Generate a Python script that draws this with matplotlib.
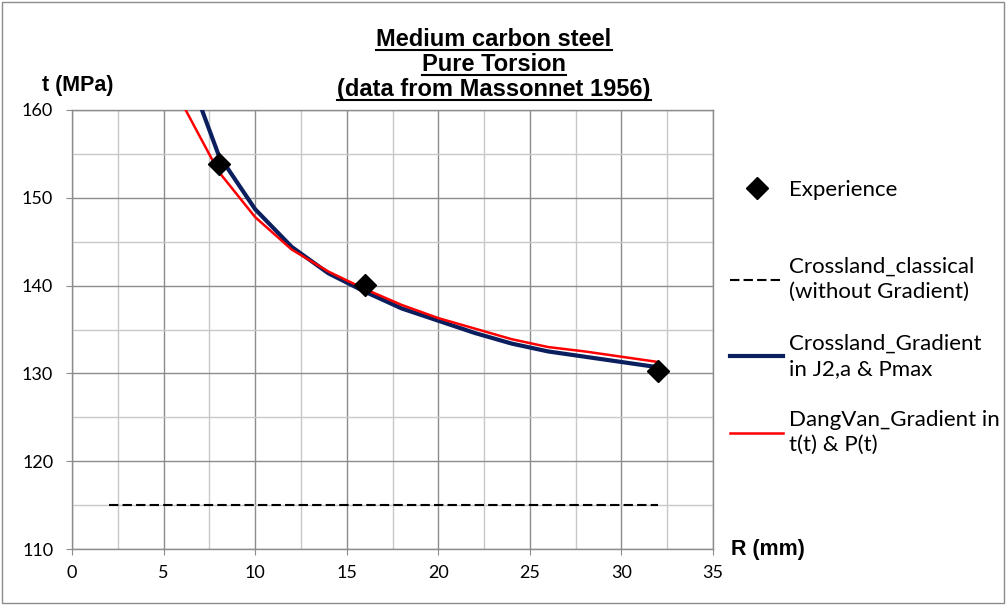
import matplotlib.pyplot as plt
from matplotlib.lines import Line2D
from matplotlib.patches import Rectangle
from matplotlib.ticker import MultipleLocator

# Données
r_exp = [8, 16, 32]
t_exp = [153.8, 140.1, 130.3]

r_classic = [2, 32]
t_classic = [115, 115]

r_grad = [6, 8, 10, 12, 14, 16, 18, 20, 22, 24, 26, 28, 30, 32]
t_crossland = [166.2, 154.9, 148.7, 144.4, 141.4, 139.3, 137.4, 136.0,
               134.6, 133.4, 132.5, 131.9, 131.3, 130.7]
t_dangvan = [160.8, 153.0, 147.8, 144.1, 141.6, 139.6, 137.8, 136.3,
             135.1, 133.9, 133.0, 132.5, 131.9, 131.3]

title_lines = ["Medium carbon steel", "Pure Torsion", "(data from Massonnet 1956)"]

W, H = 1006, 605
fig = plt.figure(figsize=(W / 100, H / 100), dpi=100)
ax = fig.add_axes([72 / W, 1 - 549 / H, (713 - 72) / W, (549 - 110) / H])

grid_major = '#8c8c8c'
grid_minor = '#c8c8c8'
navy = '#0b1f5e'

ax.plot(r_classic, t_classic, color='black', lw=1.5, dashes=(4.5, 2),
        label="Crossland_classical\n(without Gradient)", zorder=3)
ax.plot(r_grad, t_crossland, color=navy, lw=3, label="Crossland_Gradient\nin J2,a & Pmax", zorder=4)
ax.plot(r_grad, t_dangvan, color='red', lw=1.8, label="DangVan_Gradient in\nt(t) & P(t)", zorder=5)
ax.plot(r_exp, t_exp, linestyle='none', marker='D', markersize=11, color='black',
        label="Experience", zorder=6)

ax.set_xlim(0, 35)
ax.set_ylim(110, 160)
ax.xaxis.set_major_locator(MultipleLocator(5))
ax.xaxis.set_minor_locator(MultipleLocator(2.5))
ax.yaxis.set_major_locator(MultipleLocator(10))
ax.yaxis.set_minor_locator(MultipleLocator(5))
ax.grid(which='major', color=grid_major, lw=1)
ax.grid(which='minor', color=grid_minor, lw=1)
ax.set_axisbelow(True)
for s in ax.spines.values():
    s.set_color(grid_major)
    s.set_linewidth(1)
ax.tick_params(which='major', length=4.5, color=grid_major, labelsize=13)
ax.tick_params(axis='y', pad=9)
ax.tick_params(axis='x', pad=7)
ax.tick_params(which='minor', length=0)
for lab in ax.get_xticklabels() + ax.get_yticklabels():
    lab.set_fontfamily('Lato')

# Titres des axes
fig.text(78 / W, 1 - 85 / H, "t (MPa)", ha='center', va='center',
         fontsize=15.5, fontweight='bold', family='Liberation Sans')
fig.text(768 / W, 1 - 550 / H, "R (mm)", ha='center', va='center',
         fontsize=15.5, fontweight='bold', family='Liberation Sans')

# Légendes
leg_font = {'family': 'Lato', 'size': 16}
handles, labels = ax.get_legend_handles_labels()
leg1 = fig.legend([handles[3]], [labels[3]], loc='center left',
                  bbox_to_anchor=(730 / W, 1 - 189.5 / H), frameon=False,
                  prop=leg_font, handlelength=2.4,
                  handletextpad=0.27, borderpad=0, borderaxespad=0)
leg2 = fig.legend(handles[:3], labels[:3], loc='upper left',
                  bbox_to_anchor=(730 / W, 1 - 257 / H), frameon=False,
                  prop=leg_font, handlelength=2.4,
                  handletextpad=0.27, borderpad=0, borderaxespad=0, labelspacing=1.4)
for t in leg2.get_texts():
    t.set_linespacing(1.33)

# Titre souligné
baselines = [46, 71, 96]
title_texts = []
for line, yb in zip(title_lines, baselines):
    title_texts.append(fig.text(494 / W, 1 - yb / H, line, ha='center', va='baseline',
                                fontsize=17, fontweight='bold', family='Liberation Sans'))

fig.canvas.draw()
renderer = fig.canvas.get_renderer()
for txt, yb in zip(title_texts, baselines):
    bb = txt.get_window_extent(renderer)
    yl = 1 - (yb + 4) / H
    fig.add_artist(Line2D([bb.x0 / W, bb.x1 / W], [yl, yl], color='black', lw=1.5,
                          transform=fig.transFigure))

# Cadre extérieur
fig.add_artist(Rectangle((2 / W, 2 / H), 1 - 4 / W, 1 - 4 / H, transform=fig.transFigure,
                         fill=False, edgecolor='#8c8c8c', lw=1))

fig.savefig("out.png", dpi=100)
